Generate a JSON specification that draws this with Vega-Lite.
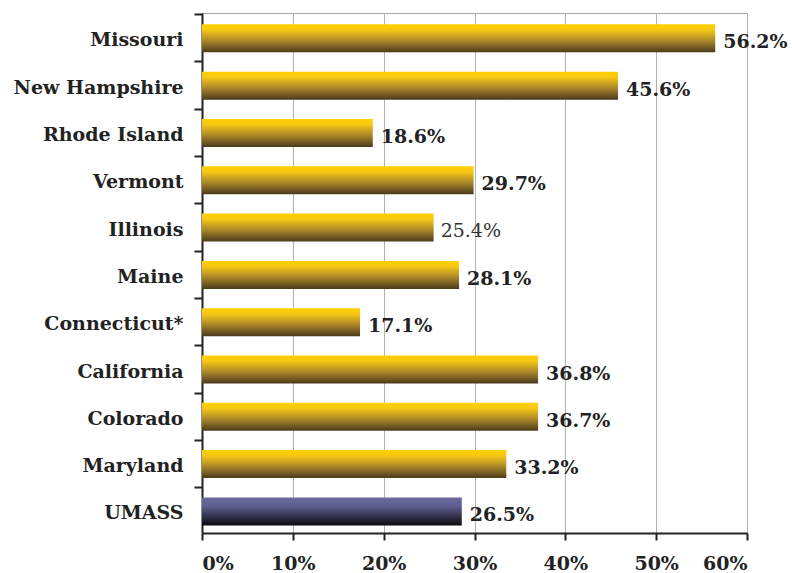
{
  "$schema": "https://vega.github.io/schema/vega-lite/v6.json",
  "autosize": "none",
  "padding": {"left": 202, "top": 13, "right": 45, "bottom": 40},
  "width": 545,
  "height": 520,
  "background": "white",
  "config": {
    "view": {"stroke": "#a8a8a8", "strokeWidth": 1},
    "font": "DejaVu Serif"
  },
  "data": {
    "values": [
      {"state": "Missouri", "value": 56.5, "label": "56.2%"},
      {"state": "New Hampshire", "value": 45.8, "label": "45.6%"},
      {"state": "Rhode Island", "value": 18.8, "label": "18.6%"},
      {"state": "Vermont", "value": 29.9, "label": "29.7%"},
      {"state": "Illinois", "value": 25.5, "label": "25.4%"},
      {"state": "Maine", "value": 28.3, "label": "28.1%"},
      {"state": "Connecticut*", "value": 17.4, "label": "17.1%"},
      {"state": "California", "value": 37.0, "label": "36.8%"},
      {"state": "Colorado", "value": 37.0, "label": "36.7%"},
      {"state": "Maryland", "value": 33.5, "label": "33.2%"},
      {"state": "UMASS", "value": 28.6, "label": "26.5%"}
    ]
  },
  "encoding": {
    "y": {
      "field": "state",
      "type": "nominal",
      "sort": null,
      "scale": {"paddingInner": 0.408, "paddingOuter": 0.2, "align": 0.6},
      "axis": {
        "title": null,
        "domainColor": "#222222",
        "domainWidth": 2,
        "tickColor": "#222222",
        "tickWidth": 2,
        "tickSize": 8,
        "bandPosition": -0.35,
        "labelFont": "DejaVu Serif",
        "labelFontSize": 19,
        "labelFontWeight": "bold",
        "labelColor": "#222222",
        "labelPadding": 11,
        "labelLimit": 300,
        "labelBaseline": "middle",
        "labelOffset": 2,
        "grid": false
      }
    },
    "x": {
      "field": "value",
      "type": "quantitative",
      "scale": {"domain": [0, 60], "nice": false},
      "axis": {
        "title": null,
        "values": [0, 10, 20, 30, 40, 50, 60],
        "labelExpr": "datum.value + '%'",
        "domainColor": "#222222",
        "domainWidth": 2,
        "tickColor": "#222222",
        "tickWidth": 2,
        "tickSize": 7,
        "labelFont": "DejaVu Serif",
        "labelFontSize": 19,
        "labelFontWeight": "bold",
        "labelColor": "#222222",
        "labelPadding": 14,
        "grid": true,
        "gridColor": "#b0b0b0",
        "gridWidth": 1
      }
    }
  },
  "layer": [
    {
      "transform": [{"filter": "datum.state !== 'UMASS'"}],
      "mark": {
        "type": "bar",
        "color": {
          "gradient": "linear", "x1": 0, "y1": 0, "x2": 0, "y2": 1,
          "stops": [
            {"offset": 0, "color": "#ffd000"},
            {"offset": 0.2, "color": "#f6c814"},
            {"offset": 0.6, "color": "#a8842a"},
            {"offset": 1, "color": "#4a3a1c"}
          ]
        }
      }
    },
    {
      "transform": [{"filter": "datum.state === 'UMASS'"}],
      "mark": {
        "type": "bar",
        "color": {
          "gradient": "linear", "x1": 0, "y1": 0, "x2": 0, "y2": 1,
          "stops": [
            {"offset": 0, "color": "#6a6aa0"},
            {"offset": 0.3, "color": "#5f5f92"},
            {"offset": 0.7, "color": "#303048"},
            {"offset": 1, "color": "#0c0c10"}
          ]
        }
      }
    },
    {
      "transform": [{"filter": "datum.state !== 'Illinois'"}],
      "mark": {
        "type": "text",
        "align": "left",
        "baseline": "middle",
        "dx": 8,
        "dy": 4,
        "font": "DejaVu Serif",
        "fontSize": 19,
        "fontWeight": "bold",
        "color": "#222222"
      },
      "encoding": {"text": {"field": "label"}}
    },
    {
      "transform": [{"filter": "datum.state === 'Illinois'"}],
      "mark": {
        "type": "text",
        "align": "left",
        "baseline": "middle",
        "dx": 7,
        "dy": 3,
        "font": "DejaVu Serif",
        "fontSize": 19,
        "fontWeight": "normal",
        "color": "#333333"
      },
      "encoding": {"text": {"field": "label"}}
    }
  ]
}
